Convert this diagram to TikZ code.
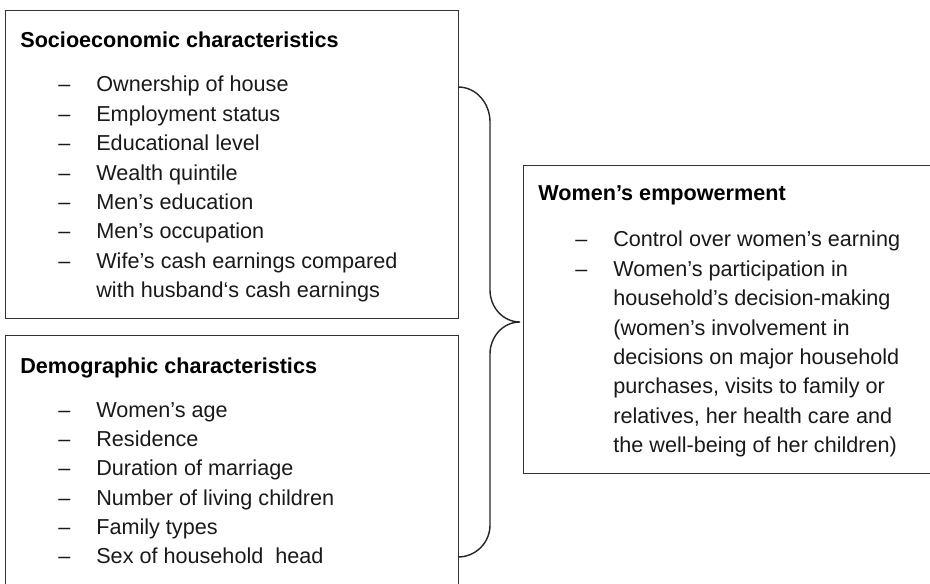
\documentclass[tikz,border=0pt]{standalone}
\usepackage{fontspec}
\setmainfont{Liberation Sans}
\usepackage{tikz}
\usepackage{xcolor}
% dash list: dash column, then the text
\def\dashlist#1{\begin{tabular}[t]{@{}p{.76cm}@{}l@{}}#1\end{tabular}}
\def\drawframe#1#2#3#4#5{
	\node[frame,minimum width=#4cm,minimum height=#5cm] (#1) at (#2,#3) {};}

\begin{document}
\begin{tikzpicture}[font=\fontsize{12.3}{16.7}\selectfont,
	frame/.style={draw=black!80,line width=.7pt,anchor=north west,inner sep=0},
	head/.style={anchor=base west,inner sep=0,font=\fontsize{12.3}{16.7}\selectfont\bfseries},
	list/.style={anchor=base west,inner sep=0,text=black!90},
	brace/.style={draw=black!85,line width=.8pt}]
	\useasboundingbox (0,0) rectangle (18.6,11.66);
	%三个方框,下框和右框超出页面被裁掉
	\drawframe{socio}{0.10}{11.46}{9.06}{6.16};
	\drawframe{demo}{0.10}{4.96}{9.06}{5.30};
	\drawframe{empower}{10.46}{8.36}{8.60}{6.16};
	
	\node[head] (socio-head) at (0.40,10.70) {Socioeconomic characteristics};
	\node[list] (socio-list) at (1.16,9.82) {\dashlist{
			-- & Ownership of house\\
			-- & Employment status\\
			-- & Educational level\\
			-- & Wealth quintile\\
			-- & Men’s education\\
			-- & Men’s occupation\\
			-- & Wife’s cash earnings compared\\
			   & with husband‘s cash earnings}};
	
	\node[head] (demo-head) at (0.40,4.20) {Demographic characteristics};
	\node[list] (demo-list) at (1.16,3.32) {\dashlist{
			-- & Women’s age\\
			-- & Residence\\
			-- & Duration of marriage\\
			-- & Number of living children\\
			-- & Family types\\
			-- & Sex of household~~head}};
	
	\node[head] (empower-head) at (10.76,7.64) {Women’s empowerment};
	\node[list] (empower-list) at (11.50,6.72) {\dashlist{
			-- & Control over women’s earning\\
			-- & Women’s participation in\\
			   & household’s decision-making\\
			   & (women’s involvement in\\
			   & decisions on major household\\
			   & purchases, visits to family or\\
			   & relatives, her health care and\\
			   & the well-being of her children)}};
	
	%大括号:从左边两个框指向右框
	\coordinate (brace-top) at (9.16,9.92);
	\coordinate (brace-tip) at (10.40,5.22);
	\coordinate (brace-bot) at (9.16,0.52);
	\draw[brace] (brace-top) to[out=0,in=90] (9.80,9.22) -- (9.80,5.86)
		to[out=-90,in=180] (brace-tip) to[out=180,in=90] (9.80,4.58)
		-- (9.80,1.16) to[out=-90,in=0] (brace-bot);
\end{tikzpicture}
\end{document}
